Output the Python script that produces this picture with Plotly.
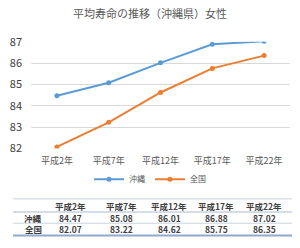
import plotly.graph_objects as go

categories = ["平成2年", "平成7年", "平成12年", "平成17年", "平成22年"]
okinawa = [84.47, 85.08, 86.01, 86.88, 87.02]
zenkoku = [82.07, 83.22, 84.62, 85.75, 86.35]
series_names = ["沖縄", "全国"]
y_ticks = [82, 83, 84, 85, 86, 87]
title_text = "平均寿命の推移（沖縄県）女性"

W, H = 300, 248
BLUE = "#5B9BD5"
ORANGE = "#ED7D31"
FONT = "Noto Sans CJK JP"

fig = go.Figure()
for name, vals, col in [(series_names[0], okinawa, BLUE), (series_names[1], zenkoku, ORANGE)]:
    fig.add_trace(go.Scatter(
        x=categories, y=vals, name=name, mode="lines+markers",
        line=dict(color=col, width=2), marker=dict(color=col, size=5),
    ))

# table drawn as annotations (paper coordinates)
col_x = [33, 70, 121, 169, 216, 264]
row_y = [211, 223, 235]
annotations = []
for cx, c in zip(col_x[1:], categories):
    annotations.append(dict(x=cx / W, y=1 - row_y[0] / H, text=f"<b>{c}</b>"))
for ri, (name, vals) in enumerate([(series_names[0], okinawa), (series_names[1], zenkoku)]):
    ry = row_y[ri + 1]
    annotations.append(dict(x=col_x[0] / W, y=1 - ry / H, text=f"<b>{name}</b>"))
    for cx, v in zip(col_x[1:], vals):
        annotations.append(dict(x=cx / W, y=1 - ry / H, text=f"<b>{v:.2f}</b>"))
for a in annotations:
    a.update(xref="paper", yref="paper", showarrow=False, xanchor="center", yanchor="middle",
             height=10, borderpad=0,
             font=dict(family=FONT, size=8.5, color="#404040"))

# horizontal rules of the table
for yy, col, w in [(203, "#C9D3DE", 1), (217, "#A9BCD6", 1), (229, "#C9D3DE", 1), (242, "#8FAACC", 2)]:
    fig.add_shape(type="line", xref="paper", yref="paper",
                  x0=13 / W, x1=292 / W, y0=1 - yy / H, y1=1 - yy / H,
                  line=dict(color=col, width=w))

fig.update_layout(
    width=W, height=H,
    margin=dict(l=0, r=0, t=0, b=0),
    paper_bgcolor="white", plot_bgcolor="white",
    font=dict(family=FONT, color="#595959"),
    annotations=annotations,
    title=dict(text=title_text, x=0.5, xanchor="center", y=1 - 14 / H, yanchor="middle",
               font=dict(family=FONT, size=11, color="#595959")),
    xaxis=dict(domain=[31 / W, 290 / W], showgrid=False, showline=False, zeroline=False,
               ticks="", ticklabelstandoff=6,
               tickfont=dict(family=FONT, size=9, color="#595959"),
               range=[-0.5, len(categories) - 0.5]),
    yaxis=dict(domain=[1 - 149 / H, 1 - 35 / H], range=[82, 87],
               tickvals=y_ticks, showgrid=True, gridcolor="#D9D9D9", gridwidth=1,
               zeroline=False, showline=False, ticks="", ticklabelstandoff=8,
               tickfont=dict(family=FONT, size=11, color="#404040")),
    showlegend=True,
    legend=dict(orientation="h", x=0.5, xanchor="center", y=1 - 182 / H, yanchor="middle",
                font=dict(family=FONT, size=8, color="#595959"),
                itemwidth=30, bgcolor="rgba(0,0,0,0)"),
)

fig.write_html("out.html")
